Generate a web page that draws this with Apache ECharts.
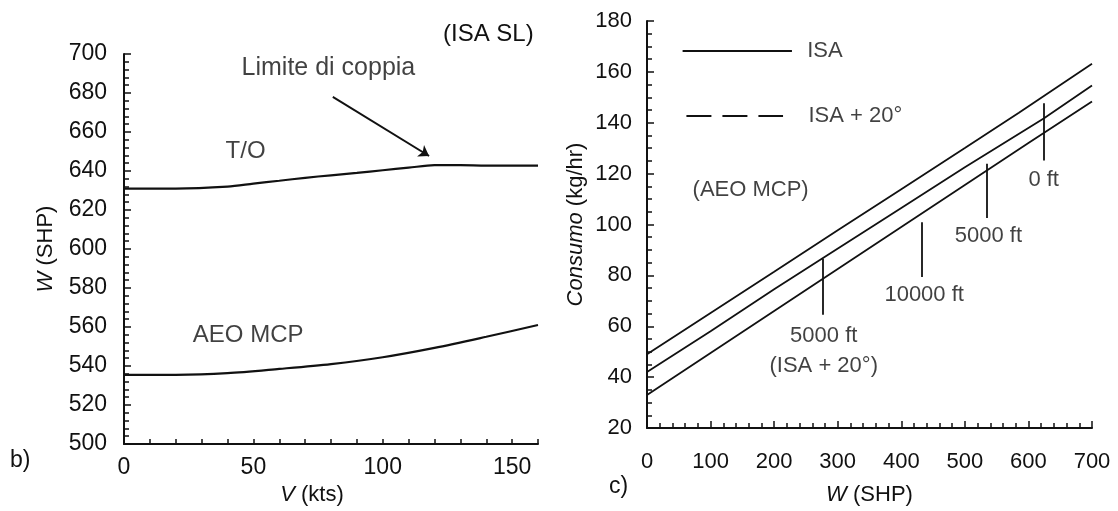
<!DOCTYPE html>
<html><head><meta charset="utf-8">
<script src="https://cdn.jsdelivr.net/npm/echarts@6/dist/echarts.min.js"></script>
<style>html,body{margin:0;padding:0;background:#fff}#c{width:1118px;height:511px}</style>
</head><body><div id="c"></div>
<script>
// ---------- Panel b) : W (SHP) vs V (kts) ----------
const speedTO  = [0, 20, 40, 50, 60, 70, 80, 90, 100, 110, 120, 130, 140, 150, 160];
const powerTO  = [631, 631, 632, 633.5, 635, 636.5, 637.8, 639, 640.4, 641.7, 643, 643, 642.8, 642.8, 642.8];
const speedAEO = [0, 20, 40, 60, 80, 100, 120, 140, 160];
const powerAEO = [535.5, 535.5, 536.3, 538.5, 541, 544.5, 549.3, 555, 561];
const leftNotes = [['T/O', 47, 650.2], ['AEO MCP', 48, 555.7]];
const torqueNote = [['Limite di coppia', 79, 693]];
const torqueArrow = [[80.7, 678], [117.9, 647.7]];

// ---------- Panel c) : Consumo (kg/hr) vs W (SHP) ----------
const shpTop  = [0, 100, 200, 300, 400, 500, 585, 700];
const fuelTop = [49, 65.2, 81.4, 97.7, 113.9, 130.1, 143.9, 163.2];
const shpMid  = [0, 100, 200, 275, 400, 500, 624, 700];
const fuelMid = [42, 58, 74.5, 86.5, 106.5, 122.5, 141.7, 154.6];
const shpLow  = [0, 100, 200, 300, 400, 500, 600, 700];
const fuelLow = [33, 49.5, 66, 82.5, 99, 115.5, 132, 148.4];
const rightNotes = [['(AEO MCP)', 163, 113.5], ['0 ft', 624, 117.4], ['5000 ft', 537, 95.5],
                    ['10000 ft', 436, 72.3], ['5000 ft', 278, 56.1], ['(ISA + 20°)', 278, 44.5]];
const leaders = [[624, 125.2, 147.7], [534, 102.6, 123.9], [432, 79.4, 100.9], [277, 64.5, 86.5]];
const legendKeys = [['solid', 56, 228, 168.4], ['dashed', 62, 214, 142.6]];
const legendTexts = [['ISA', 252, 168.4], ['ISA + 20°', 254, 142.6]];

const INK = '#111';
const FONT = 'Liberation Sans';
const pair = (xs, ys) => xs.map((x, i) => [x, ys[i]]);

function nameStyle(extra) {
  return Object.assign({ color: INK, fontSize: 22, fontFamily: FONT,
    rich: { i: { fontStyle: 'italic', color: INK, fontSize: 22, fontFamily: FONT } } }, extra || {});
}
function axisBase(fs) {
  return {
    axisLine: { show: true, lineStyle: { color: INK, width: 2 } },
    axisTick: { show: true, inside: true, length: 7, lineStyle: { color: INK, width: 1.5 } },
    minorTick: { show: false },
    splitLine: { show: false },
    axisLabel: { color: INK, fontSize: fs, fontFamily: FONT },
    nameTextStyle: nameStyle()
  };
}
function noteSeries(notes, xi, pos, fs) {
  return {
    type: 'scatter', xAxisIndex: xi, yAxisIndex: xi, symbolSize: 0, silent: true,
    data: notes.map(n => ({ name: n[0], value: [n[1], n[2]] })),
    label: { show: true, formatter: '{b}', position: pos, distance: 0,
      color: INK, fontSize: fs, fontFamily: FONT }
  };
}

const chart = echarts.init(document.getElementById('c'), null, { renderer: 'canvas' });
chart.setOption({
  animation: false,
  backgroundColor: '#fff',
  grid: [
    { left: 124, top: 54, right: 580, bottom: 64 },
    { left: 647, top: 21, right: 26, bottom: 76 }
  ],
  xAxis: [
    Object.assign(axisBase(23), {
      gridIndex: 0, type: 'value', min: 0, max: 160, interval: 10,
      name: '{i|V} (kts)', nameLocation: 'middle', nameGap: 40,
      nameTextStyle: nameStyle({ padding: [0, 38, 0, 0] }),
      axisLabel: { color: INK, fontSize: 23, fontFamily: FONT, margin: 12,
        formatter: v => (v % 50 === 0 ? String(v) : '') },
      axisTick: { show: true, inside: true, length: 5, lineStyle: { color: INK, width: 1.5 } }
    }),
    Object.assign(axisBase(22), {
      gridIndex: 1, type: 'value', min: 0, max: 700, interval: 100,
      name: '{i|W} (SHP)', nameLocation: 'middle', nameGap: 56,
      axisLabel: { color: INK, fontSize: 22, fontFamily: FONT, margin: 23 },
      minorTick: { show: true, splitNumber: 5, length: 5, lineStyle: { color: INK, width: 1.5 } }
    })
  ],
  yAxis: [
    Object.assign(axisBase(23), {
      gridIndex: 0, type: 'value', min: 500, max: 700, interval: 20,
      name: '{i|W} (SHP)', nameLocation: 'middle', nameGap: 67,
      axisLabel: { color: INK, fontSize: 23, fontFamily: FONT, margin: 17 },
      minorTick: { show: true, splitNumber: 5, length: 5, lineStyle: { color: INK, width: 1.5 } }
    }),
    Object.assign(axisBase(22), {
      gridIndex: 1, type: 'value', min: 20, max: 180, interval: 20,
      name: '{i|Consumo} (kg/hr)', nameLocation: 'middle', nameGap: 60,
      axisLabel: { color: INK, fontSize: 22, fontFamily: FONT, margin: 15 },
      minorTick: { show: true, splitNumber: 4, length: 5, lineStyle: { color: INK, width: 1.5 } }
    })
  ],
  series: [
    { type: 'line', xAxisIndex: 0, yAxisIndex: 0, data: pair(speedTO, powerTO), smooth: 0.3,
      symbol: 'none', lineStyle: { color: INK, width: 2.2 },
      markLine: { silent: true, symbol: ['none', 'arrow'], symbolSize: 10, label: { show: false },
        lineStyle: { color: INK, width: 2, type: 'solid' },
        data: [[{ coord: torqueArrow[0] }, { coord: torqueArrow[1] }]] } },
    { type: 'line', xAxisIndex: 0, yAxisIndex: 0, data: pair(speedAEO, powerAEO), smooth: 0.3,
      symbol: 'none', lineStyle: { color: INK, width: 2.2 } },
    noteSeries(leftNotes, 0, 'inside', 24),
    noteSeries(torqueNote, 0, 'inside', 25),
    { type: 'line', xAxisIndex: 1, yAxisIndex: 1, data: pair(shpTop, fuelTop),
      symbol: 'none', lineStyle: { color: INK, width: 1.8 },
      markLine: { silent: true, symbol: ['none', 'none'], label: { show: false },
        lineStyle: { color: INK, width: 1.8, type: 'solid' },
        data: leaders.map(l => [{ coord: [l[0], l[1]] }, { coord: [l[0], l[2]] }]) } },
    { type: 'line', xAxisIndex: 1, yAxisIndex: 1, data: pair(shpMid, fuelMid),
      symbol: 'none', lineStyle: { color: INK, width: 1.8 } },
    { type: 'line', xAxisIndex: 1, yAxisIndex: 1, data: pair(shpLow, fuelLow),
      symbol: 'none', lineStyle: { color: INK, width: 1.8 },
      markLine: { silent: true, symbol: ['none', 'none'], label: { show: false },
        data: legendKeys.map(k => [
          { coord: [k[1], k[3]], lineStyle: { color: INK, width: 1.8, type: k[0] === 'dashed' ? [25, 11] : 'solid' } },
          { coord: [k[2], k[3]] }]) } },
    noteSeries(rightNotes, 1, 'inside', 22),
    noteSeries(legendTexts, 1, 'right', 22)
  ],
  graphic: [
    { type: 'text', left: 10, top: 449, style: { text: 'b)', fill: INK, font: '23px "Liberation Sans"' } },
    { type: 'text', left: 609, top: 475, style: { text: 'c)', fill: INK, font: '23px "Liberation Sans"' } },
    { type: 'text', left: 443, top: 22, style: { text: '(ISA SL)', fill: INK, font: '24px "Liberation Sans"' } }
  ]
});
</script></body></html>
